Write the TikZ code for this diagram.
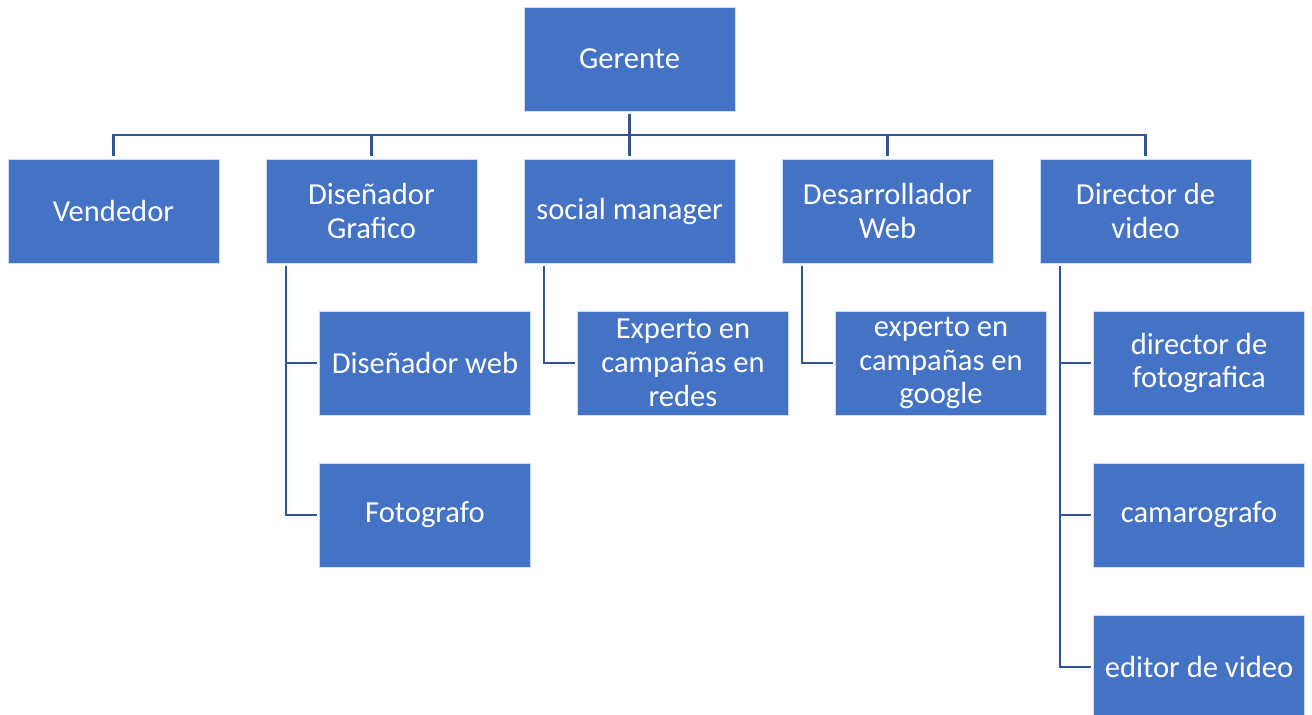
\documentclass[tikz,border=0pt]{standalone}
\usepackage{fontspec}
\setmainfont{Carlito}
\usetikzlibrary{positioning}
\definecolor{boxblue}{HTML}{4472C4}
\definecolor{lineblue}{HTML}{2F5597}

\begin{document}
\begin{tikzpicture}
  \tikzset{BoxStyle/.style = {shape          = rectangle,
                              fill           = boxblue,
                              draw           = white!75!boxblue,
                              line width     = 0.4pt,
                              text           = white,
                              align          = center,
                              minimum width  = 4.22cm,
                              minimum height = 2.08cm,
                              inner sep      = 2pt,
                              outer sep      = 1.5pt,
                              font           = \fontsize{17.4}{19.3}\selectfont},
           LinkStyle/.style = {draw = lineblue, line width = 1.3pt}}
  \useasboundingbox (-12.59,1.18) rectangle (13.65,-13.12);
  \begin{scope}[every node/.style={BoxStyle}]
    %%% GERENTE %%%
    \node (ger) at (0,0) {Gerente};
    %%% PRIMER NIVEL %%%
    \tikzset{node distance = 0.855cm and 0.835cm}
    \node[below=of ger](soc){social manager};
    \node[left=of soc](dis){Diseñador\\Grafico};
    \node[left=of dis](ven){Vendedor};
    \node[right=of soc](des){Desarrollador\\Web};
    \node[right=of des](dir){Director de\\video};
    %%% SEGUNDO NIVEL %%%
    %
    \node[below=of dis, xshift=1.07cm](dweb){Diseñador web};
    \node[below=of dweb](foto){Fotografo};
    %
    \node[below=of soc, xshift=1.07cm](exr){Experto en\\campañas en\\redes};
    \node[below=of des, xshift=1.07cm](exg){experto en\\campañas en\\google};
    %
    \node[below=of dir, xshift=1.07cm](dfot){director de\\fotografica};
    \node[below=of dfot](cam){camarografo};
    \node[below=of cam](edv){editor de video};
  \end{scope}
  %%% CONECTORES %%%
  \foreach \n in {ven,dis,soc,des,dir}
    \draw[LinkStyle](ger.south) -- ++(0,-0.43) -| (\n.north);
  \draw[LinkStyle]([xshift=0.45cm]dis.south west) |- (dweb.west);
  \draw[LinkStyle]([xshift=0.45cm]dis.south west) |- (foto.west);
  \draw[LinkStyle]([xshift=0.45cm]soc.south west) |- (exr.west);
  \draw[LinkStyle]([xshift=0.45cm]des.south west) |- (exg.west);
  \draw[LinkStyle]([xshift=0.45cm]dir.south west) |- (dfot.west);
  \draw[LinkStyle]([xshift=0.45cm]dir.south west) |- (cam.west);
  \draw[LinkStyle]([xshift=0.45cm]dir.south west) |- (edv.west);
\end{tikzpicture}
\end{document}
